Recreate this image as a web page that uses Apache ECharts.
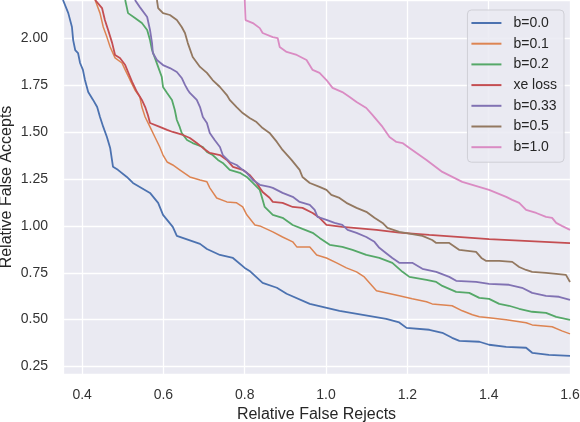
<!DOCTYPE html>
<html>
<head>
<meta charset="utf-8">
<script src="https://cdn.jsdelivr.net/npm/echarts@6/dist/echarts.min.js"></script>
<style>
  html, body { margin: 0; padding: 0; background: #fff; }
  #chart { width: 580px; height: 422px; }
</style>
</head>
<body>
<div id="chart"></div>
<script>
// names shown in the legend
var seriesNames = ['b=0.0', 'b=0.1', 'b=0.2', 'xe loss', 'b=0.33', 'b=0.5', 'b=1.0'];
var seriesColors = ['#4C72B0', '#DD8452', '#55A868', '#C44E52', '#8172B3', '#937860', '#DA8BC3'];

// [relative false rejects, relative false accepts]
var b00 = [
  [0.353, 2.205], [0.366, 2.135], [0.375, 2.061], [0.378, 1.991], [0.383, 1.938],
  [0.390, 1.922], [0.395, 1.869], [0.402, 1.832], [0.407, 1.778], [0.415, 1.714],
  [0.427, 1.672], [0.437, 1.634], [0.444, 1.581], [0.452, 1.528], [0.461, 1.474],
  [0.469, 1.416], [0.476, 1.315], [0.488, 1.299], [0.510, 1.261], [0.525, 1.229],
  [0.567, 1.176], [0.587, 1.123], [0.599, 1.059], [0.623, 0.995], [0.633, 0.947],
  [0.690, 0.904], [0.707, 0.877], [0.739, 0.845], [0.771, 0.829], [0.800, 0.776],
  [0.812, 0.760], [0.844, 0.696], [0.879, 0.670], [0.903, 0.638], [0.960, 0.584],
  [1.033, 0.547], [1.148, 0.504], [1.180, 0.485], [1.198, 0.456], [1.254, 0.446],
  [1.286, 0.430], [1.310, 0.403], [1.328, 0.387], [1.377, 0.382], [1.401, 0.366],
  [1.443, 0.355], [1.492, 0.350], [1.507, 0.323], [1.548, 0.312], [1.600, 0.307]
];
var b01 = [
  [0.432, 2.205], [0.444, 2.135], [0.452, 2.061], [0.461, 2.007], [0.469, 1.954],
  [0.481, 1.896], [0.498, 1.869], [0.506, 1.832], [0.518, 1.778], [0.530, 1.725],
  [0.542, 1.688], [0.547, 1.634], [0.555, 1.581], [0.567, 1.528], [0.579, 1.474],
  [0.591, 1.421], [0.599, 1.378], [0.609, 1.341], [0.623, 1.325], [0.640, 1.299],
  [0.665, 1.261], [0.690, 1.245], [0.707, 1.235], [0.714, 1.203], [0.731, 1.149],
  [0.756, 1.128], [0.780, 1.123], [0.795, 1.101], [0.805, 1.059], [0.825, 1.005],
  [0.837, 1.000], [0.869, 0.968], [0.893, 0.941], [0.918, 0.915], [0.928, 0.888],
  [0.960, 0.888], [0.977, 0.845], [1.001, 0.829], [1.026, 0.803], [1.050, 0.776],
  [1.075, 0.755], [1.094, 0.728], [1.124, 0.654], [1.180, 0.627], [1.212, 0.611],
  [1.247, 0.595], [1.261, 0.584], [1.310, 0.574], [1.335, 0.547], [1.360, 0.526],
  [1.377, 0.515], [1.401, 0.510], [1.443, 0.499], [1.492, 0.483], [1.507, 0.472],
  [1.556, 0.462], [1.580, 0.440], [1.600, 0.424]
];
var b02 = [
  [0.506, 2.205], [0.513, 2.135], [0.530, 2.109], [0.547, 2.082], [0.560, 2.045],
  [0.567, 1.991], [0.572, 1.938], [0.579, 1.896], [0.587, 1.848], [0.596, 1.794],
  [0.599, 1.741], [0.609, 1.709], [0.621, 1.672], [0.628, 1.618], [0.633, 1.565],
  [0.640, 1.528], [0.645, 1.496], [0.658, 1.458], [0.672, 1.442], [0.697, 1.421],
  [0.707, 1.394], [0.721, 1.378], [0.734, 1.352], [0.746, 1.336], [0.763, 1.299],
  [0.788, 1.283], [0.805, 1.261], [0.820, 1.229], [0.837, 1.192], [0.844, 1.139],
  [0.849, 1.101], [0.869, 1.059], [0.893, 1.043], [0.918, 1.005], [0.942, 0.984],
  [0.967, 0.963], [0.984, 0.936], [1.009, 0.899], [1.040, 0.888], [1.065, 0.872],
  [1.099, 0.845], [1.131, 0.829], [1.163, 0.803], [1.188, 0.755], [1.205, 0.728],
  [1.247, 0.712], [1.271, 0.701], [1.286, 0.680], [1.320, 0.648], [1.352, 0.643],
  [1.377, 0.616], [1.401, 0.611], [1.426, 0.584], [1.450, 0.574], [1.475, 0.558],
  [1.507, 0.542], [1.541, 0.536], [1.566, 0.515], [1.600, 0.499]
];
var xeLoss = [
  [0.432, 2.205], [0.449, 2.162], [0.456, 2.098], [0.464, 2.045], [0.474, 1.975],
  [0.481, 1.912], [0.493, 1.896], [0.506, 1.858], [0.513, 1.821], [0.523, 1.768],
  [0.535, 1.714], [0.547, 1.672], [0.556, 1.629], [0.562, 1.590], [0.567, 1.549],
  [0.591, 1.528], [0.609, 1.512], [0.623, 1.501], [0.648, 1.485], [0.665, 1.469],
  [0.682, 1.442], [0.697, 1.416], [0.714, 1.389], [0.739, 1.378], [0.756, 1.352],
  [0.771, 1.315], [0.795, 1.299], [0.812, 1.272], [0.829, 1.229], [0.844, 1.181],
  [0.861, 1.150], [0.869, 1.128], [0.893, 1.123], [0.918, 1.101], [0.942, 1.096],
  [0.967, 1.069], [0.984, 1.043], [1.001, 1.005], [1.040, 0.995], [1.124, 0.979],
  [1.180, 0.964], [1.254, 0.952], [1.401, 0.929], [1.600, 0.908]
];
var b033 = [
  [0.530, 2.205], [0.542, 2.167], [0.560, 2.114], [0.567, 2.045], [0.572, 1.975],
  [0.574, 1.922], [0.584, 1.885], [0.599, 1.858], [0.616, 1.842], [0.633, 1.821],
  [0.645, 1.789], [0.653, 1.752], [0.660, 1.725], [0.665, 1.709], [0.682, 1.672],
  [0.690, 1.634], [0.697, 1.581], [0.707, 1.549], [0.714, 1.496], [0.726, 1.458],
  [0.739, 1.421], [0.746, 1.378], [0.763, 1.341], [0.780, 1.325], [0.795, 1.299],
  [0.805, 1.283], [0.820, 1.245], [0.837, 1.219], [0.861, 1.208], [0.869, 1.203],
  [0.893, 1.176], [0.918, 1.155], [0.935, 1.128], [0.960, 1.112], [0.972, 1.085],
  [0.979, 1.048], [1.001, 1.032], [1.021, 1.016], [1.040, 1.005], [1.053, 0.979],
  [1.075, 0.963], [1.099, 0.941], [1.119, 0.915], [1.131, 0.883], [1.144, 0.861],
  [1.163, 0.829], [1.180, 0.803], [1.212, 0.803], [1.237, 0.771], [1.271, 0.755],
  [1.303, 0.728], [1.320, 0.707], [1.369, 0.701], [1.401, 0.691], [1.450, 0.686],
  [1.482, 0.670], [1.507, 0.643], [1.541, 0.627], [1.573, 0.622], [1.600, 0.606]
];
var b05 = [
  [0.584, 2.205], [0.587, 2.162], [0.599, 2.135], [0.616, 2.125], [0.633, 2.098],
  [0.645, 2.061], [0.653, 2.029], [0.660, 1.975], [0.672, 1.901], [0.690, 1.848],
  [0.707, 1.816], [0.721, 1.778], [0.739, 1.741], [0.756, 1.698], [0.763, 1.672],
  [0.780, 1.634], [0.795, 1.602], [0.812, 1.576], [0.829, 1.554], [0.844, 1.522],
  [0.861, 1.496], [0.879, 1.448], [0.893, 1.405], [0.915, 1.352], [0.935, 1.299],
  [0.942, 1.261], [0.960, 1.229], [0.984, 1.208], [1.001, 1.192], [1.013, 1.165],
  [1.033, 1.149], [1.050, 1.123], [1.075, 1.096], [1.099, 1.075], [1.119, 1.043],
  [1.139, 1.016], [1.151, 0.989], [1.180, 0.968], [1.237, 0.947], [1.261, 0.925],
  [1.271, 0.909], [1.303, 0.909], [1.328, 0.872], [1.369, 0.861], [1.382, 0.829],
  [1.394, 0.813], [1.426, 0.813], [1.458, 0.808], [1.475, 0.781], [1.492, 0.765],
  [1.507, 0.755], [1.541, 0.749], [1.566, 0.744], [1.590, 0.739], [1.600, 0.701]
];
var b10 = [
  [0.800, 2.205], [0.802, 2.098], [0.820, 2.082], [0.837, 2.055], [0.844, 2.029],
  [0.869, 2.007], [0.881, 2.002], [0.886, 1.954], [0.903, 1.928], [0.928, 1.912],
  [0.952, 1.885], [0.967, 1.832], [0.984, 1.816], [1.001, 1.778], [1.016, 1.736],
  [1.040, 1.714], [1.058, 1.688], [1.075, 1.661], [1.099, 1.629], [1.114, 1.592],
  [1.139, 1.528], [1.156, 1.474], [1.173, 1.448], [1.188, 1.442], [1.205, 1.416],
  [1.247, 1.352], [1.286, 1.288], [1.335, 1.235], [1.401, 1.192], [1.443, 1.155],
  [1.458, 1.139], [1.475, 1.123], [1.492, 1.085], [1.517, 1.069], [1.541, 1.048],
  [1.556, 1.043], [1.566, 1.016], [1.580, 1.000], [1.600, 0.979]
];
var allData = [b00, b01, b02, xeLoss, b033, b05, b10];

var chart = echarts.init(document.getElementById('chart'));
var font = 'Liberation Sans, Arial, sans-serif';

var series = [];
for (var i = 0; i < allData.length; i++) {
  series.push({
    name: seriesNames[i],
    type: 'line',
    data: allData[i],
    symbol: 'none',
    clip: true,
    animation: false,
    lineStyle: { color: seriesColors[i], width: i === 1 ? 1.5 : 1.8 },
    itemStyle: { color: seriesColors[i] }
  });
}

var option = {
  backgroundColor: '#fff',
  grid: {
    left: 63, right: 10, top: 0, bottom: 48,
    outerBoundsMode: 'none',
    show: true, backgroundColor: '#EAEAF2', borderWidth: 0
  },
  legend: {
    data: seriesNames,
    orient: 'vertical',
    right: 16, top: 10,
    icon: 'rect',
    itemWidth: 30, itemHeight: 2, itemGap: 6.7,
    padding: [6, 7, 8, 4],
    backgroundColor: 'rgba(234,234,242,0.85)',
    borderColor: '#cfcfd6', borderWidth: 1, borderRadius: 4,
    textStyle: {
      fontFamily: font, fontSize: 14, lineHeight: 14, color: '#262626',
      padding: [0, 0, 0, 7]
    }
  },
  xAxis: {
    type: 'value',
    min: 0.353, max: 1.6,
    minInterval: 0.2, maxInterval: 0.2,
    name: 'Relative False Rejects',
    nameLocation: 'middle', nameGap: 30,
    nameTextStyle: { fontFamily: font, fontSize: 16, color: '#262626' },
    axisLine: { show: false }, axisTick: { show: false },
    axisLabel: {
      fontFamily: font, fontSize: 14, color: '#333', margin: 14,
      showMinLabel: false,
      formatter: function (v) { return v.toFixed(1); }
    },
    splitLine: { show: true, lineStyle: { color: '#fff', width: 1.3 } }
  },
  yAxis: {
    type: 'value',
    min: 0.21, max: 2.205,
    minInterval: 0.25, maxInterval: 0.25,
    name: 'Relative False Accepts',
    nameLocation: 'middle', nameGap: 48,
    nameMoveOverlap: false,
    nameTextStyle: { fontFamily: font, fontSize: 16, color: '#262626' },
    axisLine: { show: false }, axisTick: { show: false },
    axisLabel: {
      fontFamily: font, fontSize: 14, color: '#333', margin: 15,
      showMinLabel: false, showMaxLabel: false,
      formatter: function (v) { return v.toFixed(2); }
    },
    splitLine: { show: true, lineStyle: { color: '#fff', width: 1.3 } }
  },
  series: series
};

chart.setOption(option);
</script>
</body>
</html>
